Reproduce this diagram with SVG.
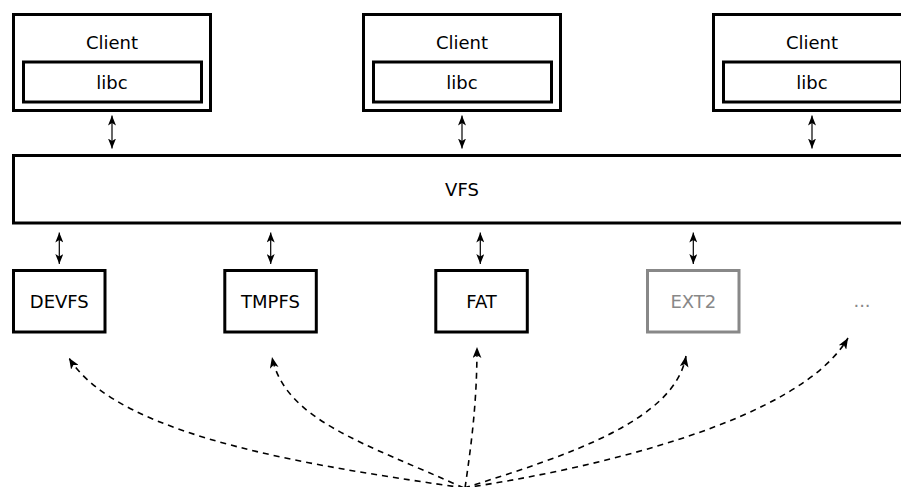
<svg xmlns="http://www.w3.org/2000/svg" width="901" height="487" viewBox="0 0 901 487">
  <style>
    .box { fill: #ffffff; stroke: #000000; stroke-width: 3; }
    .box.dim { stroke: #888888; }
    .lbl { font-family: "DejaVu Sans", "Liberation Sans", sans-serif; font-size: 18px; fill: #000000; text-anchor: middle; }
    .lbl.dim { fill: #888888; }
    .link { fill: none; stroke: #000000; stroke-width: 1.2; marker-start: url(#tip); marker-end: url(#tip); }
    .use { fill: none; stroke: #000000; stroke-width: 1.6; stroke-dasharray: 6 5; marker-end: url(#dart); }
  </style>
  <defs>
    <marker id="tip" viewBox="0 0 10 8" refX="10" refY="4" markerWidth="10" markerHeight="8" markerUnits="userSpaceOnUse" orient="auto-start-reverse">
      <path d="M0,0 L10,4 L0,8 L2.5,4 z" fill="#000000"/>
    </marker>
    <marker id="dart" viewBox="0 0 10 8" refX="10" refY="4" markerWidth="11" markerHeight="9" markerUnits="userSpaceOnUse" orient="auto">
      <path d="M0,0 L10,4 L0,8 L2.5,4 z" fill="#000000"/>
    </marker>
  </defs>

  <!-- client processes -->
  <g id="client-1">
    <rect class="box" x="13.5" y="14.5" width="197" height="96"/>
    <text class="lbl" x="112" y="48.5">Client</text>
    <rect class="box" x="23.5" y="62" width="178" height="40"/>
    <text class="lbl" x="112" y="89">libc</text>
  </g>
  <g id="client-2">
    <rect class="box" x="363.5" y="14.5" width="197" height="96"/>
    <text class="lbl" x="462" y="48.5">Client</text>
    <rect class="box" x="373.5" y="62" width="178" height="40"/>
    <text class="lbl" x="462" y="89">libc</text>
  </g>
  <g id="client-3">
    <rect class="box" x="713.5" y="14.5" width="197" height="96"/>
    <text class="lbl" x="812" y="48.5">Client</text>
    <rect class="box" x="723.5" y="62" width="178" height="40"/>
    <text class="lbl" x="812" y="89">libc</text>
  </g>

  <!-- virtual file system layer -->
  <g id="vfs">
    <rect class="box" x="13.5" y="155.5" width="900" height="67.5"/>
    <text class="lbl" x="462" y="196">VFS</text>
  </g>

  <!-- file system drivers -->
  <g id="devfs">
    <rect class="box" x="13.5" y="270.5" width="91.5" height="61.5"/>
    <text class="lbl" x="59.3" y="308">DEVFS</text>
  </g>
  <g id="tmpfs">
    <rect class="box" x="224.8" y="270.5" width="91.5" height="61.5"/>
    <text class="lbl" x="270.5" y="308">TMPFS</text>
  </g>
  <g id="fat">
    <rect class="box" x="435.8" y="270.5" width="91.5" height="61.5"/>
    <text class="lbl" x="481.5" y="308">FAT</text>
  </g>
  <g id="ext2">
    <rect class="box dim" x="647.5" y="270.5" width="91.5" height="61.5"/>
    <text class="lbl dim" x="693.3" y="308">EXT2</text>
  </g>
  <g id="more">
    <text class="lbl dim" x="862" y="307">...</text>
  </g>

  <!-- connectors -->
  <g id="connectors">
    <line class="link" x1="112" y1="115.5" x2="112" y2="148.5"/>
    <line class="link" x1="462" y1="115.5" x2="462" y2="148.5"/>
    <line class="link" x1="812" y1="115.5" x2="812" y2="148.5"/>
    <line class="link" x1="59.3" y1="232.5" x2="59.3" y2="264"/>
    <line class="link" x1="270.7" y1="232.5" x2="270.7" y2="264"/>
    <line class="link" x1="480.3" y1="232.5" x2="480.3" y2="264"/>
    <line class="link" x1="693.3" y1="232.5" x2="693.3" y2="264"/>

    <path class="use" d="M464,488 C330,468 120,440 69,358"/>
    <path class="use" d="M464,488 C364,443 285,420 272,357"/>
    <path class="use" d="M465,488 C472,440 477,400 477,347"/>
    <path class="use" d="M464,488 C570,455 675,420 686,356"/>
    <path class="use" d="M464,488 C598,468 800,420 848,338"/>
  </g>
</svg>
